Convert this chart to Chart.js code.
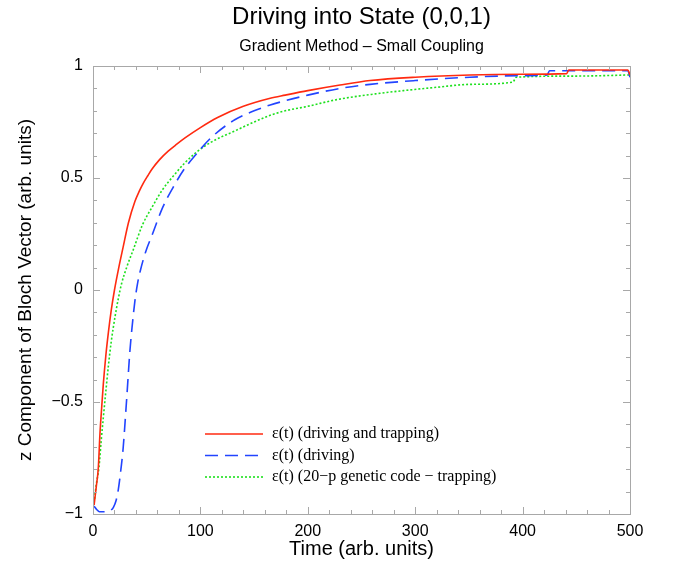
<!DOCTYPE html>
<html>
<head>
<meta charset="utf-8">
<script src="https://cdn.jsdelivr.net/npm/chart.js@4/dist/chart.umd.min.js"></script>
<style>
  html, body { margin: 0; padding: 0; background: #fff; }
  #wrap { width: 676px; height: 561px; }
</style>
</head>
<body>
<div id="wrap"><canvas id="c" width="676" height="561"></canvas></div>
<script>
// values
const tRed   = [1, 3, 5, 6.5, 8, 9.6, 12, 14.3, 17, 20, 24, 28, 33, 39, 43, 47, 51, 55, 62, 70, 78, 86, 100, 116, 140, 165, 179, 200, 230, 258, 300, 351, 400, 441, 443, 470, 498, 500];
const zRed   = [-0.96, -0.88, -0.79, -0.64, -0.53, -0.42, -0.29, -0.19, -0.09, 0.0, 0.10, 0.19, 0.30, 0.395, 0.44, 0.478, 0.51, 0.54, 0.582, 0.62, 0.651, 0.68, 0.725, 0.77, 0.82, 0.856, 0.87, 0.89, 0.915, 0.935, 0.95, 0.96, 0.963, 0.966, 0.982, 0.982, 0.982, 0.96];

const tBlue  = [1, 3.4, 6, 11, 16, 19, 21.5, 23.6, 26, 28, 31.3, 34.4, 36.5, 39, 41.5, 44, 49, 55, 65, 76, 85, 95, 110, 132, 150, 165, 179, 200, 230, 258, 300, 351, 400, 423, 425, 460, 498, 500];
const zBlue  = [-0.965, -0.98, -0.99, -0.99, -0.985, -0.97, -0.94, -0.89, -0.80, -0.71, -0.49, -0.27, -0.16, -0.05, 0.03, 0.085, 0.17, 0.245, 0.37, 0.47, 0.54, 0.60, 0.68, 0.76, 0.80, 0.826, 0.845, 0.87, 0.90, 0.918, 0.935, 0.95, 0.957, 0.96, 0.979, 0.979, 0.979, 0.95];

const tGreen = [1, 3, 5.6, 7.5, 9.6, 12, 14.3, 17, 20.5, 23.5, 26.7, 32, 37.5, 46, 55, 65, 75, 85, 95, 110, 132, 150, 165, 179, 200, 227, 267, 289, 320, 351, 391, 394, 450, 500];
const zGreen = [-0.95, -0.87, -0.79, -0.68, -0.57, -0.45, -0.34, -0.23, -0.12, -0.04, 0.03, 0.11, 0.18, 0.29, 0.37, 0.45, 0.51, 0.565, 0.61, 0.66, 0.71, 0.75, 0.78, 0.80, 0.82, 0.85, 0.878, 0.89, 0.905, 0.918, 0.928, 0.95, 0.955, 0.96];

const seriesLabels = ['\u03b5(t) (driving and trapping)', '\u03b5(t) (driving)', '\u03b5(t) (20\u2212p genetic code \u2212 trapping)'];
const xMajorTicks = [0, 100, 200, 300, 400, 500];
const yMajorTicks = [-1, -0.5, 0, 0.5, 1];
const mainTitle = 'Driving into State (0,0,1)';
const subTitle = 'Gradient Method \u2013 Small Coupling';

function pts(ts, zs) { return ts.map((t, i) => ({x: t, y: zs[i]})); }

const sans = "'Liberation Sans', Arial, Helvetica, sans-serif";
const serif = "'Liberation Serif', 'Times New Roman', serif";

function isMajor(v, list) { return list.some(m => Math.abs(m - v) < 1e-6); }
function fmt(v) {
  const r = Math.round(v * 10) / 10;
  return r < 0 ? '\u2212' + String(-r) : String(r);
}

// titles centred over the plot box, not the canvas
const plotTitles = {
  id: 'plotTitles',
  afterDraw(chart) {
    const ctx = chart.ctx, a = chart.chartArea;
    const cx = (a.left + a.right) / 2;
    ctx.save();
    ctx.fillStyle = '#000';
    ctx.textAlign = 'center';
    ctx.textBaseline = 'middle';
    ctx.font = '24px ' + sans;
    ctx.fillText(mainTitle, cx, 17);
    ctx.font = '16px ' + sans;
    ctx.fillText(subTitle, cx, 47);
    ctx.restore();
  }
};

// frame with inward ticks on all 4 sides
const frameTicks = {
  id: 'frameTicks',
  afterDatasetsDraw(chart) {
    const ctx = chart.ctx, a = chart.chartArea;
    const xs = chart.scales.x, ys = chart.scales.y;
    ctx.save();
    ctx.strokeStyle = '#a8a8a8';
    ctx.lineWidth = 1;
    ctx.strokeRect(a.left + 0.5, a.top + 0.5, a.right - a.left, a.bottom - a.top);
    ctx.beginPath();
    xs.ticks.forEach(tk => {
      const px = Math.round(xs.getPixelForValue(tk.value)) + 0.5;
      const len = isMajor(tk.value, xMajorTicks) ? 7 : 4;
      ctx.moveTo(px, a.bottom); ctx.lineTo(px, a.bottom - len);
      ctx.moveTo(px, a.top); ctx.lineTo(px, a.top + len);
    });
    ys.ticks.forEach(tk => {
      const py = Math.round(ys.getPixelForValue(tk.value)) + 0.5;
      const len = isMajor(tk.value, yMajorTicks) ? 7 : 4;
      ctx.moveTo(a.left, py); ctx.lineTo(a.left + len, py);
      ctx.moveTo(a.right, py); ctx.lineTo(a.right - len, py);
    });
    ctx.stroke();
    ctx.restore();
  }
};

// legend inside the plot, lower middle
const innerLegend = {
  id: 'innerLegend',
  afterDatasetsDraw(chart) {
    const ctx = chart.ctx;
    const x0 = 205, x1 = 263, tx = 272, y0 = 434, dy = 21.5;
    ctx.save();
    chart.data.datasets.forEach((ds, i) => {
      const y = y0 + i * dy;
      ctx.beginPath();
      ctx.strokeStyle = ds.borderColor;
      ctx.lineWidth = ds.borderWidth;
      ctx.setLineDash(ds.borderDash || []);
      ctx.moveTo(x0, y); ctx.lineTo(x1, y);
      ctx.stroke();
      ctx.setLineDash([]);
      ctx.fillStyle = '#000';
      ctx.font = '16px ' + serif;
      ctx.textBaseline = 'middle';
      ctx.fillText(ds.label, tx, y);
    });
    ctx.restore();
  }
};

new Chart(document.getElementById('c'), {
  type: 'line',
  data: {
    datasets: [
      { label: seriesLabels[0], data: pts(tRed, zRed), borderColor: '#ff2a10', borderWidth: 1.6 },
      { label: seriesLabels[1], data: pts(tBlue, zBlue), borderColor: '#2244ff', borderWidth: 1.6, borderDash: [13, 7] },
      { label: seriesLabels[2], data: pts(tGreen, zGreen), borderColor: '#1ee01e', borderWidth: 1.6, borderDash: [2, 2] }
    ]
  },
  plugins: [frameTicks, innerLegend, plotTitles],
  options: {
    responsive: false,
    animation: false,
    elements: { point: { radius: 0 }, line: { tension: 0, cubicInterpolationMode: 'monotone', fill: false } },
    layout: { padding: { left: 0, right: 46, top: 66, bottom: 0 } },
    plugins: {
      legend: { display: false },
      tooltip: { enabled: false },
      title: { display: false },
      subtitle: { display: false }
    },
    scales: {
      x: {
        type: 'linear', min: 0, max: 500,
        grid: { display: false, drawTicks: false },
        border: { display: false },
        ticks: {
          stepSize: 20, autoSkip: false, maxRotation: 0, color: '#000', padding: 8,
          font: { family: sans, size: 16 },
          callback: v => isMajor(v, xMajorTicks) ? String(v) : ''
        },
        title: { display: true, text: 'Time (arb. units)', color: '#000', font: { family: sans, size: 20 }, padding: { top: 0, bottom: 0 } },
        afterFit: s => { s.height = 47; }
      },
      y: {
        type: 'linear', min: -1, max: 1,
        grid: { display: false, drawTicks: false },
        border: { display: false },
        ticks: {
          stepSize: 0.1, autoSkip: false, color: '#000', padding: 10,
          font: { family: sans, size: 16 },
          callback: v => isMajor(v, yMajorTicks) ? fmt(v) : ''
        },
        title: { display: true, text: 'z Component of Bloch Vector (arb. units)', color: '#000', font: { family: sans, size: 19 }, padding: { top: 14, bottom: 0 } },
        afterFit: s => { s.width = 93; }
      }
    }
  }
});
</script>
</body>
</html>
